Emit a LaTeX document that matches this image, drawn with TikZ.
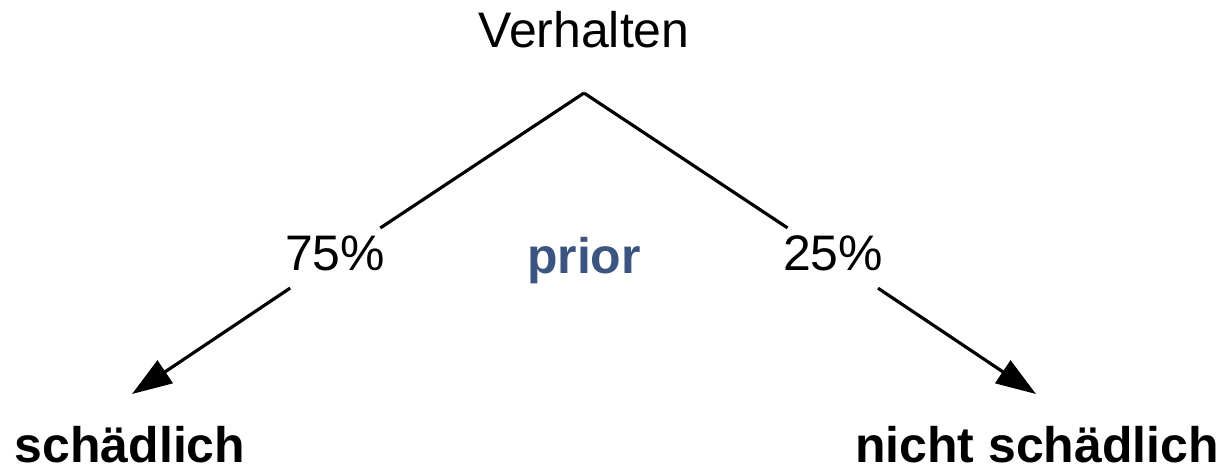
\documentclass[tikz,border=0pt]{standalone}
\usepackage{fontspec}
\setmainfont{Liberation Sans}
\usetikzlibrary{arrows.meta}
\definecolor{priorblue}{HTML}{3B5580}

\begin{document}
\begin{tikzpicture}[x=0.01cm,y=-0.01cm,
  txt/.style={font=\fontsize{14.2pt}{17pt}\selectfont, inner sep=0pt},
  pct/.style={txt, text depth=0.1cm, inner xsep=0.05cm, inner ysep=0.07cm},
  res/.style={txt, font=\fontsize{14.2pt}{17pt}\selectfont\bfseries},
  branch/.style={line width=0.9pt},
  arr/.style={branch, -{Triangle[length=0.4cm,width=0.27cm]}}]
  \useasboundingbox (0,0) rectangle (1227,469);

  % Top node and split point
  \node[txt, anchor=base] (verhalten) at (584,47) {Verhalten};
  \coordinate (apex) at (584,93);

  % Probabilities on the branches
  \node[pct] (p75) at (335,258) {75\%};
  \node[pct] (p25) at (833,258) {25\%};
  \node[res, text=priorblue, anchor=base] (prior) at (584,273) {prior};

  % Arrow tips and outcomes
  \coordinate (tipL) at (132,394);
  \coordinate (tipR) at (1036,394);
  \node[res, anchor=base] (schaedlich) at (130,462) {schädlich};
  \node[res, anchor=base] (nichtschaedlich) at (1037,462) {nicht schädlich};

  \draw[branch] (apex) -- (p75);
  \draw[arr] (p75) -- (tipL);
  \draw[branch] (apex) -- (p25);
  \draw[arr] (p25) -- (tipR);
\end{tikzpicture}
\end{document}
